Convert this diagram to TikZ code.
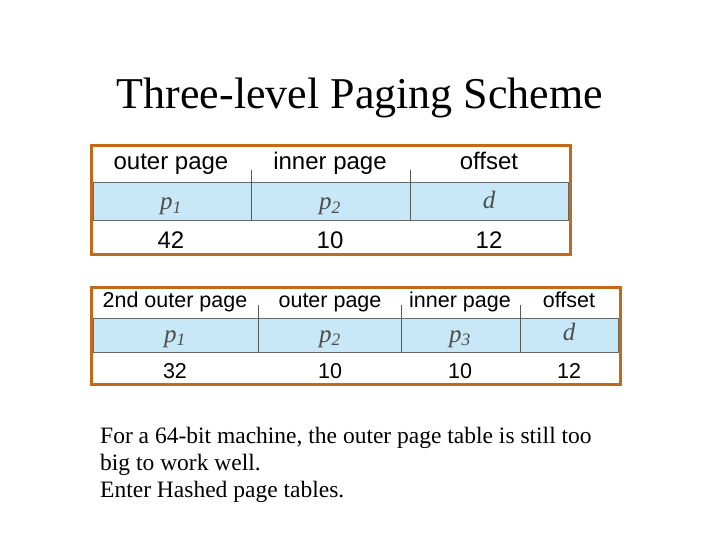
\documentclass[tikz,border=0pt]{standalone}
\usepackage{fontspec}
\setmainfont{Liberation Serif}
\setsansfont{Liberation Sans}
\begin{document}
\begin{tikzpicture}[x=1pt,y=-1pt,
  frame/.style={draw=brownorange,line width=3pt},
  blue/.style={fill=lightblu,draw=gray!80!black,line width=0.8pt},
  sep/.style={draw=gray!70!black,line width=0.8pt},
  hd/.style={font=\sffamily\fontsize{24}{26}\selectfont,anchor=base},
  hdb/.style={font=\sffamily\fontsize{21.5}{23}\selectfont,anchor=base},
  var/.style={font=\itshape\fontsize{25}{26}\selectfont,text=gray!60!black,anchor=base},
  txt/.style={font=\fontsize{23.5}{26}\selectfont,anchor=base west,inner sep=0}]
\definecolor{brownorange}{HTML}{C06A1A}
\definecolor{lightblu}{HTML}{C8E8F8}
\useasboundingbox (0,0) rectangle (720,540);
\node[font=\fontsize{44}{48}\selectfont,anchor=base] (title) at (360,109) {Three-level Paging Scheme};
% table 1
\fill[white] (91,146) rectangle (570,254);
\path[blue] (93,182) rectangle (568,220);
\draw[sep] (251,170) -- (251,220) (410,170) -- (410,220);
\draw[frame] (91,146) rectangle (570,254);
\node[hd] (a1) at (171,170) {outer page};
\node[hd] (a2) at (330,170) {inner page};
\node[hd] (a3) at (489,170) {offset};
\node[var] (b1) at (171,210) {p\textsubscript{1}};
\node[var] (b2) at (330,210) {p\textsubscript{2}};
\node[var] (b3) at (489,208) {d};
\node[hd] (c1) at (171,248) {42};
\node[hd] (c2) at (330,248) {10};
\node[hd] (c3) at (489,248) {12};
% table 2
\fill[white] (91,287) rectangle (620,384);
\path[blue] (93,318) rectangle (618,352);
\draw[sep] (258,305) -- (258,352) (401,305) -- (401,352) (520,305) -- (520,352);
\draw[frame] (91,287) rectangle (620,384);
\node[hdb] (d1) at (175,307) {2nd outer page};
\node[hdb] (d2) at (330,307) {outer page};
\node[hdb] (d3) at (460,307) {inner page};
\node[hdb] (d4) at (569,307) {offset};
\node[var] (e1) at (175,342) {p\textsubscript{1}};
\node[var] (e2) at (330,342) {p\textsubscript{2}};
\node[var] (e3) at (460,342) {p\textsubscript{3}};
\node[var] (e4) at (569,340) {d};
\node[hdb] (f1) at (175,378) {32};
\node[hdb] (f2) at (330,378) {10};
\node[hdb] (f3) at (460,378) {10};
\node[hdb] (f4) at (569,378) {12};
% text
\node[txt] (t1) at (100,443) {For a 64-bit machine, the outer page table is still too};
\node[txt] (t2) at (100,470) {big to work well.};
\node[txt] (t3) at (100,497) {Enter Hashed page tables.};
\end{tikzpicture}
\end{document}
